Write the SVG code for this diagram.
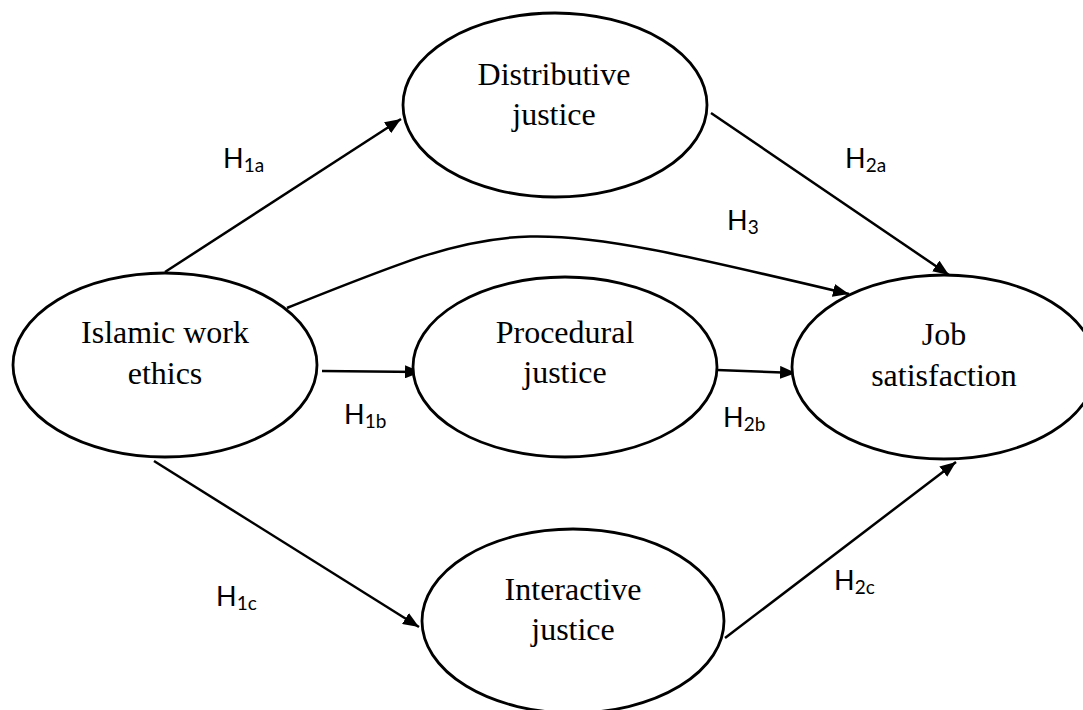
<svg xmlns="http://www.w3.org/2000/svg" width="1083" height="710" viewBox="0 0 1083 710">
<style>
.node{fill:#fff;stroke:#000;stroke-width:2.8}
.nt{font-family:"Liberation Serif","Times New Roman",serif;font-size:32px;fill:#000;text-anchor:middle}
.edge{fill:none;stroke:#000;stroke-width:2.5}
.lbl{font-family:Lato,"Open Sans","Liberation Sans",sans-serif;font-size:27px;fill:#000}
.sub{font-size:19px}
</style>
<defs>
<marker id="arr" markerUnits="userSpaceOnUse" markerWidth="16" markerHeight="13" refX="16" refY="6.5" orient="auto">
<path d="M0,0 L16,6.5 L0,13 z" fill="#000"/>
</marker>
</defs>
<rect width="1083" height="710" fill="#fff"/>
<g id="connectors">
<path class="edge" d="M165,272 L401,119" marker-end="url(#arr)"/>
<path class="edge" d="M711,113 L949,275" marker-end="url(#arr)"/>
<path class="edge" d="M287,308 C519,215 515,215 849,294" marker-end="url(#arr)"/>
<path class="edge" d="M322,371 L421,372" marker-end="url(#arr)"/>
<path class="edge" d="M717,370 L796,373" marker-end="url(#arr)"/>
<path class="edge" d="M154,461 L419,627" marker-end="url(#arr)"/>
<path class="edge" d="M725,638 L956,462" marker-end="url(#arr)"/>
</g>
<g id="islamic">
<ellipse class="node" cx="165" cy="365" rx="152" ry="92"/>
<text class="nt" x="165" y="343">Islamic work</text>
<text class="nt" x="165" y="384">ethics</text>
</g>
<g id="distributive">
<ellipse class="node" cx="555" cy="105" rx="152" ry="92"/>
<text class="nt" x="554" y="85">Distributive</text>
<text class="nt" x="554" y="125">justice</text>
</g>
<g id="procedural">
<ellipse class="node" cx="565" cy="367" rx="152" ry="90"/>
<text class="nt" x="565" y="343">Procedural</text>
<text class="nt" x="565" y="383">justice</text>
</g>
<g id="job">
<ellipse class="node" cx="944" cy="367" rx="152" ry="92"/>
<text class="nt" x="944" y="345">Job</text>
<text class="nt" x="944" y="386">satisfaction</text>
</g>
<g id="interactive">
<ellipse class="node" cx="573" cy="621" rx="151" ry="92"/>
<text class="nt" x="573" y="600">Interactive</text>
<text class="nt" x="573" y="640">justice</text>
</g>
<g id="labels">
<text class="lbl" x="223" y="168">H<tspan class="sub" dy="4">1a</tspan></text>
<text class="lbl" x="845" y="168">H<tspan class="sub" dy="4">2a</tspan></text>
<text class="lbl" x="727" y="230">H<tspan class="sub" dy="4">3</tspan></text>
<text class="lbl" x="344" y="424">H<tspan class="sub" dy="4">1b</tspan></text>
<text class="lbl" x="723" y="427">H<tspan class="sub" dy="4">2b</tspan></text>
<text class="lbl" x="216" y="606">H<tspan class="sub" dy="4">1c</tspan></text>
<text class="lbl" x="834" y="590">H<tspan class="sub" dy="4">2c</tspan></text>
</g>
</svg>
